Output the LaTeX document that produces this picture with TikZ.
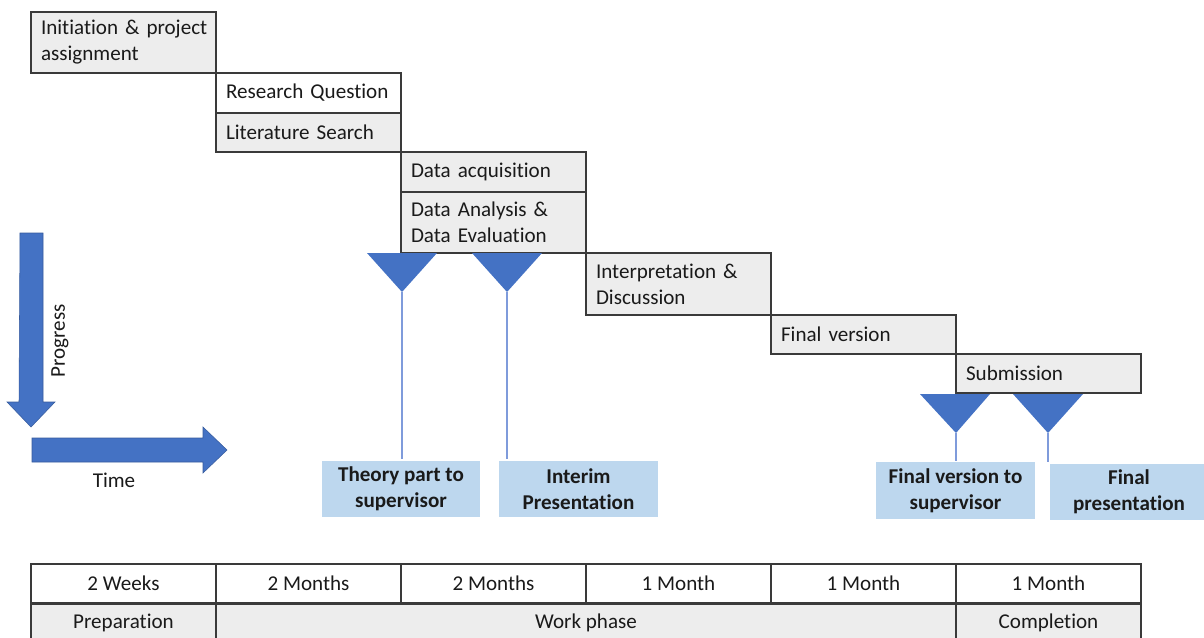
\documentclass[tikz,border=0pt]{standalone}
\usepackage{fontspec}
\setmainfont{Carlito}[RawFeature={-liga}]
\definecolor{boxgray}{HTML}{EDEDED}
\definecolor{boxline}{HTML}{3A3A3A}
\definecolor{arrowblue}{HTML}{4472C4}
\definecolor{thinblue}{HTML}{7F9BDB}
\definecolor{labelblue}{HTML}{BDD7EE}
\definecolor{txt}{HTML}{1A1A1A}
\begin{document}
\begin{tikzpicture}[x=0.02cm,y=-0.02cm,
  stagebox/.style={draw=boxline, fill=boxgray, line width=0.75pt, minimum width=3.7cm,
    text width=3.3cm, inner xsep=0.2cm, inner ysep=0pt, align=left, text=txt,
    font=\fontsize{12}{14.8}\selectfont},
  whitebox/.style={stagebox, fill=white},
  milestone/.style={fill=labelblue, draw=white, line width=0.6pt, minimum width=3.2cm,
    minimum height=1.16cm, align=center, text=txt, inner sep=0pt,
    font=\bfseries\fontsize{12}{14.8}\selectfont},
  tri/.style={fill=arrowblue, draw=none},
  stem/.style={draw=thinblue, line width=0.6pt},
  bigarrow/.style={fill=arrowblue, draw=arrowblue!80!black, line width=0.3pt},
  cell/.style={draw=boxline, line width=0.75pt, minimum width=3.7cm, minimum height=0.78cm,
    inner sep=0pt, align=center, text=txt, font=\fontsize{12}{14.5}\selectfont},
  graycell/.style={cell, fill=boxgray, minimum height=0.76cm},
  plain/.style={text=txt, font=\fontsize{12}{14.5}\selectfont, inner sep=0pt}
]
\useasboundingbox (0,0) rectangle (1204,637);
\clip (0,0) rectangle (1204,637);

% stage boxes
\node[stagebox, minimum height=1.22cm] (n1) at (123.5,42.5) {Initiation~\&~project\\assignment};
\node[whitebox, minimum height=0.80cm] (n2) at (308.5,93) {Research Question};
\node[stagebox, minimum height=0.78cm] (n3) at (308.5,132.5) {Literature Search};
\node[stagebox, minimum height=0.80cm] (n4) at (493.5,172) {Data acquisition};
\node[stagebox, minimum height=1.22cm] (n5) at (493.5,222.5) {Data Analysis \&\\Data Evaluation};
\node[stagebox, minimum height=1.24cm] (n6) at (678.5,284) {Interpretation \&\\Discussion};
\node[stagebox, minimum height=0.78cm] (n7) at (863.5,334.5) {Final version};
\node[stagebox, minimum height=0.78cm] (n8) at (1048.5,373.5) {Submission};

% milestone triangles
\fill[tri] (367,253) -- (437,253) -- (402,292) -- cycle;
\fill[tri] (472,253) -- (542,253) -- (507,292) -- cycle;
\fill[tri] (920,394) -- (990,394) -- (956,433) -- cycle;
\fill[tri] (1013,394) -- (1083,394) -- (1048,433) -- cycle;
\coordinate (t1) at (402,292);
\coordinate (t2) at (507,292);
\coordinate (t3) at (956,433);
\coordinate (t4) at (1048,433);

% milestone labels
\node[milestone] (l1) at (401,489) {Theory part to\\supervisor};
\node[milestone] (l2) at (578.5,489) {Interim\\Presentation};
\node[milestone] (l3) at (955.5,490.5) {Final version to\\supervisor};
\node[milestone] (l4) at (1129,492) {Final\\presentation};

\draw[stem] (t1) -- (t1 |- l1.north);
\draw[stem] (t2) -- (t2 |- l2.north);
\draw[stem] (t3) -- (t3 |- l3.north);
\draw[stem] (t4) -- (t4 |- l4.north);

% progress / time arrows
\filldraw[bigarrow] (20,233) -- (43,233) -- (43,402) -- (55,402) -- (31,427) -- (7,402) -- (19,402) -- cycle;
\filldraw[bigarrow] (32,438) -- (203,438) -- (203,427) -- (227,450) -- (203,473) -- (203,462) -- (32,462) -- cycle;
\node[plain, rotate=90] (prog) at (60,341) {Progress};
\node[plain] (time) at (114,480) {Time};

% bottom table
\node[cell] (d1) at (123.5,583.5) {2 Weeks};
\node[cell] (d2) at (308.5,583.5) {2 Months};
\node[cell] (d3) at (493.5,583.5) {2 Months};
\node[cell] (d4) at (678.5,583.5) {1 Month};
\node[cell] (d5) at (863.5,583.5) {1 Month};
\node[cell] (d6) at (1048.5,583.5) {1 Month};
\node[graycell] (p1) at (123.5,623) {Preparation};
\node[graycell, minimum width=14.8cm] (p2) at (586,623) {Work phase};
\node[graycell] (p3) at (1048.5,623) {Completion};
\end{tikzpicture}
\end{document}
